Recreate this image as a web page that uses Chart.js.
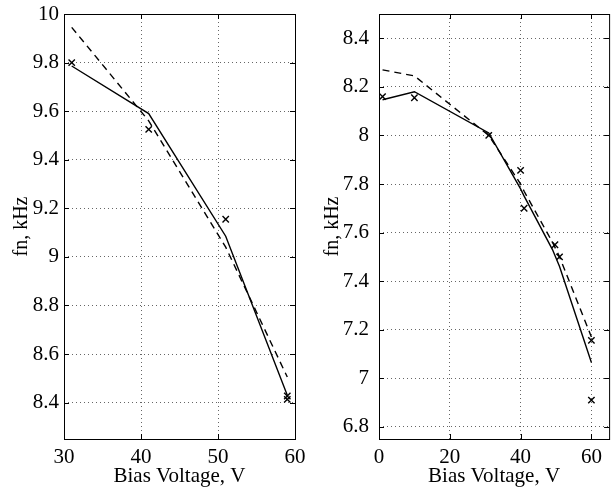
<!DOCTYPE html>
<html>
<head>
<meta charset="utf-8">
<script src="https://cdn.jsdelivr.net/npm/chart.js@4"></script>
<style>
  html, body { margin: 0; padding: 0; background: #fff; }
  #wrap { position: relative; width: 615px; height: 489px; }
  .pane { position: absolute; top: 0; }
</style>
</head>
<body>
<div id="wrap">
  <canvas id="left" class="pane" style="left:0px" width="320" height="489"></canvas>
  <canvas id="right" class="pane" style="left:305px" width="310" height="489"></canvas>
</div>
<script>
// left panel
const leftCrossX = [31, 41, 51, 59, 59];
const leftCrossY = [9.8, 9.525, 9.155, 8.427, 8.413];
const leftSolidX = [31, 41, 51, 59];
const leftSolidY = [9.786, 9.59, 9.085, 8.43];
const leftDashX = [31, 41, 51, 59];
const leftDashY = [9.945, 9.56, 9.04, 8.505];
const leftXTicks = [30, 40, 50, 60];
const leftYTicks = [8.4, 8.6, 8.8, 9, 9.2, 9.4, 9.6, 9.8, 10];

// right panel
const rightCrossX = [1, 10, 31, 40, 41, 49.7, 51, 60, 60];
const rightCrossY = [8.16, 8.155, 8.0, 7.856, 7.70, 7.55, 7.50, 7.156, 6.91];
const rightSolidX = [1, 10, 31, 40, 41, 49, 51, 60];
const rightSolidY = [8.147, 8.18, 8.01, 7.78, 7.75, 7.53, 7.46, 7.065];
const rightDashX = [1, 10, 31, 40, 41, 49, 51, 60];
const rightDashY = [8.27, 8.245, 8.0, 7.80, 7.77, 7.56, 7.50, 7.17];
const rightXTicks = [0, 20, 40, 60];
const rightYTicks = [6.8, 7, 7.2, 7.4, 7.6, 7.8, 8, 8.2, 8.4];

const FONT = 'Liberation Serif';
const pts = (xs, ys) => xs.map((x, i) => ({ x: x, y: ys[i] }));

// black box round the plot with inward ticks, like matlab
const boxPlugin = {
  id: 'box',
  afterDraw(chart) {
    const { ctx, chartArea: a, scales } = chart;
    ctx.save();
    ctx.strokeStyle = '#000';
    ctx.lineWidth = 1;
    ctx.strokeRect(a.left + 0.5, a.top + 0.5, a.right - a.left, a.bottom - a.top);
    const len = 5;
    ctx.beginPath();
    scales.x.ticks.forEach(t => {
      const px = Math.round(scales.x.getPixelForValue(t.value)) + 0.5;
      ctx.moveTo(px, a.bottom); ctx.lineTo(px, a.bottom - len);
      ctx.moveTo(px, a.top); ctx.lineTo(px, a.top + len);
    });
    scales.y.ticks.forEach(t => {
      const py = Math.round(scales.y.getPixelForValue(t.value)) + 0.5;
      ctx.moveTo(a.left, py); ctx.lineTo(a.left + len, py);
      ctx.moveTo(a.right, py); ctx.lineTo(a.right - len, py);
    });
    ctx.stroke();
    ctx.restore();
  }
};

function makePanel(id, cfg) {
  const ctx = document.getElementById(id).getContext('2d');
  return new Chart(ctx, {
    type: 'scatter',
    data: {
      datasets: [
        {
          data: pts(cfg.solidX, cfg.solidY),
          showLine: true,
          borderColor: '#000',
          borderWidth: 1.4,
          pointRadius: 0
        },
        {
          data: pts(cfg.dashX, cfg.dashY),
          showLine: true,
          borderColor: '#000',
          borderWidth: 1.4,
          borderDash: [7, 5],
          pointRadius: 0
        },
        {
          data: pts(cfg.crossX, cfg.crossY),
          showLine: false,
          pointStyle: 'crossRot',
          pointRadius: 4.5,
          borderColor: '#000',
          borderWidth: 1.4
        }
      ]
    },
    options: {
      responsive: false,
      animation: false,
      layout: { padding: { top: 14, right: cfg.padRight, left: 0, bottom: 0 } },
      plugins: { legend: { display: false }, tooltip: { enabled: false } },
      scales: {
        x: {
          type: 'linear',
          min: cfg.xMin,
          max: cfg.xMax,
          afterBuildTicks: ax => { ax.ticks = cfg.xTicks.map(v => ({ value: v })); },
          afterFit: ax => { ax.height = 50; ax.paddingLeft = 0; ax.paddingRight = 0; },
          border: { display: false, dash: [1, 3] },
          grid: { color: 'rgba(0,0,0,0.6)', drawTicks: false },
          ticks: { color: '#000', padding: 6, maxRotation: 0, font: { family: FONT, size: 21 } },
          title: {
            display: true,
            text: 'Bias Voltage, V',
            color: '#000',
            font: { family: FONT, size: 21 },
            padding: { top: 0, bottom: 0 }
          }
        },
        y: {
          type: 'linear',
          min: cfg.yMin,
          max: cfg.yMax,
          afterBuildTicks: ax => { ax.ticks = cfg.yTicks.map(v => ({ value: v })); },
          afterFit: ax => { ax.width = cfg.yWidth; ax.paddingTop = 0; ax.paddingBottom = 0; },
          border: { display: false, dash: [1, 3] },
          grid: { color: 'rgba(0,0,0,0.6)', drawTicks: false },
          ticks: {
            color: '#000',
            padding: cfg.yPad,
            font: { family: FONT, size: 21 },
            callback: v => String(+v.toFixed(1))
          },
          title: {
            display: true,
            text: 'fn, kHz',
            color: '#000',
            font: { family: FONT, size: 20 },
            padding: { top: cfg.titlePad, bottom: 0 }
          }
        }
      }
    },
    plugins: [boxPlugin]
  });
}

makePanel('left', {
  solidX: leftSolidX, solidY: leftSolidY,
  dashX: leftDashX, dashY: leftDashY,
  crossX: leftCrossX, crossY: leftCrossY,
  xMin: 30, xMax: 60, yMin: 8.25, yMax: 10,
  xTicks: leftXTicks, yTicks: leftYTicks,
  yWidth: 64, yPad: 5, titlePad: 10, padRight: 25
});

makePanel('right', {
  solidX: rightSolidX, solidY: rightSolidY,
  dashX: rightDashX, dashY: rightDashY,
  crossX: rightCrossX, crossY: rightCrossY,
  xMin: 0, xMax: 65, yMin: 6.75, yMax: 8.5,
  xTicks: rightXTicks, yTicks: rightYTicks,
  yWidth: 74, yPad: 10, titlePad: 16, padRight: 5
});
</script>
</body>
</html>
